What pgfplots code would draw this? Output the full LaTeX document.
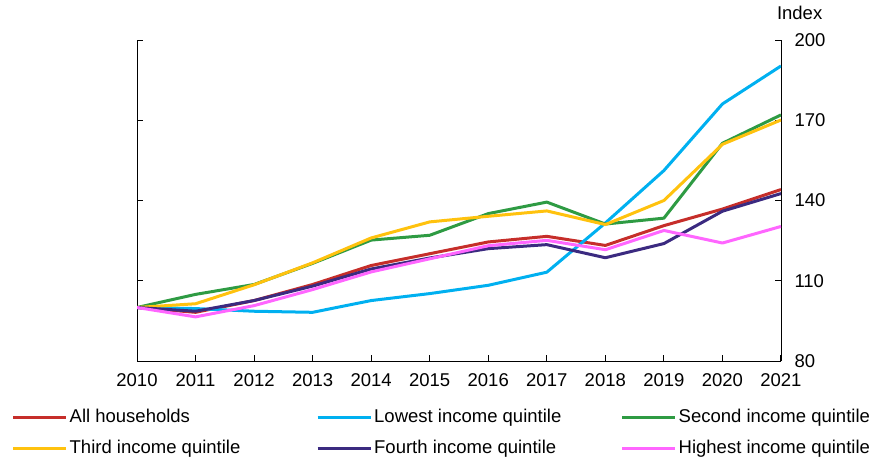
\documentclass[border=0pt]{standalone}
\usepackage{pgfplots}
\pgfplotsset{compat=1.18}
\usepackage{fontspec}
\setmainfont{Liberation Sans}
\newcommand\fs{\fontsize{18.5bp}{22bp}\selectfont}
\definecolor{cAll}{HTML}{C62E2A}
\definecolor{cLow}{HTML}{00B0F0}
\definecolor{cSec}{HTML}{2E9B43}
\definecolor{cThi}{HTML}{FFC20E}
\definecolor{cFou}{HTML}{3B2A80}
\definecolor{cHig}{HTML}{FF66FF}
\newcommand\lb[1]{\makebox[244.5bp][l]{#1}}
\begin{document}
\begin{tikzpicture}
\useasboundingbox (0,0) rectangle (878bp,457bp);
\begin{axis}[
  name=ax,
  at={(137bp,96bp)}, anchor=south west,
  scale only axis, width=644bp, height=321bp,
  xmin=2010, xmax=2021, ymin=80, ymax=200,
  axis x line*=bottom,
  x axis line style={-},
  xtick={2010,...,2021}, xtick pos=bottom, xtick align=inside,
  ytick={80,110,...,200}, ytick pos=both, ytick align=inside,
  yticklabel pos=right,
  major tick length=6bp,
  axis line style={line width=0.9bp},
  every tick/.style={black, line width=0.9bp},
  tick label style={font=\fs},
  /pgf/number format/assume math mode=true,
  x tick label style={/pgf/number format/1000 sep=, yshift=-9.5bp},
  y tick label style={xshift=10bp},
  every axis plot/.append style={line width=3bp, line join=round},
  legend image code/.code={\draw[#1] (0bp,0bp) -- (53bp,0bp);},
  legend columns=3,
  legend style={at={(axis description cs:-0.1946,-0.126)}, anchor=north west,
    draw=none, fill=none, inner sep=0pt, outer sep=0pt, font=\fs,
    nodes={inner xsep=2bp, inner ysep=6.8bp, text height=14bp, text depth=4bp, anchor=west}},
]
\addplot[cAll] coordinates {(2010,100) (2011,98.2) (2012,102.6) (2013,108.6) (2014,115.7) (2015,120.1) (2016,124.5) (2017,126.6) (2018,123.2) (2019,130.6) (2020,136.8) (2021,144.1)};
\addlegendentry{\lb{All households}}
\addplot[cLow] coordinates {(2010,100) (2011,99.6) (2012,98.6) (2013,98.2) (2014,102.6) (2015,105.2) (2016,108.3) (2017,113.2) (2018,131.6) (2019,151.2) (2020,176.1) (2021,190.3)};
\addlegendentry{\lb{Lowest income quintile}}
\addplot[cSec] coordinates {(2010,100) (2011,104.9) (2012,108.6) (2013,116.5) (2014,125.2) (2015,127) (2016,135.1) (2017,139.4) (2018,131.2) (2019,133.4) (2020,161.4) (2021,172)};
\addlegendentry{\lb{Second income quintile}}
\addplot[cThi] coordinates {(2010,100) (2011,101.4) (2012,108.5) (2013,116.7) (2014,126) (2015,132) (2016,134.1) (2017,136.1) (2018,131) (2019,140) (2020,161) (2021,170.1)};
\addlegendentry{\lb{Third income quintile}}
\addplot[cFou] coordinates {(2010,100) (2011,98.6) (2012,102.6) (2013,108) (2014,114.4) (2015,118.5) (2016,122) (2017,123.5) (2018,118.6) (2019,123.9) (2020,136) (2021,142.6)};
\addlegendentry{\lb{Fourth income quintile}}
\addplot[cHig] coordinates {(2010,100) (2011,96.5) (2012,100.7) (2013,106.7) (2014,113.3) (2015,118.2) (2016,123.1) (2017,125.1) (2018,121.6) (2019,128.8) (2020,124.1) (2021,130.3)};
\addlegendentry{\lb{Highest income quintile}}
\end{axis}
\node[anchor=base west, font=\fs, xshift=-7.5bp, yshift=20bp] at (ax.north east) {Index};
\end{tikzpicture}
\end{document}
